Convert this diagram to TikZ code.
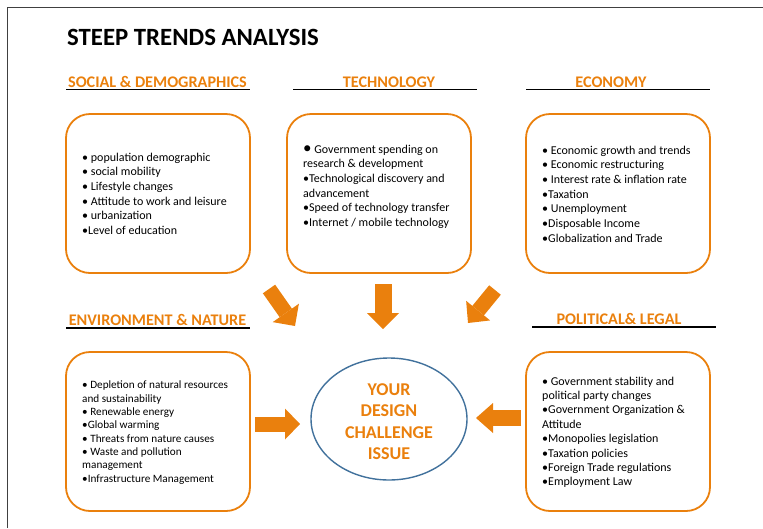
\documentclass[tikz,border=0pt]{standalone}
\usepackage{fontspec}
\setmainfont{Carlito}
\usetikzlibrary{arrows.meta,shapes.geometric}
\definecolor{org}{RGB}{234,128,13}
\definecolor{blu}{RGB}{65,113,156}
\definecolor{frm}{RGB}{64,64,64}
\tikzset{
  box/.style={draw=org, line width=1.8pt, rounded corners=24pt, minimum width=184pt, minimum height=159pt, inner sep=0pt},
  body/.style={anchor=north west, inner sep=0pt, align=left, font=\fontsize{12}{14.7}\selectfont},
  headtxt/.style={anchor=base, inner sep=0pt, text=org, font=\bfseries\fontsize{16.2}{19}\selectfont},
  uline/.style={line width=1.6pt, black},
  blockarr/.style n args={3}{draw=org, line width=#1, -{Triangle[length=#3, width=#2, line width=0pt]}}
}
\begin{document}
\begin{tikzpicture}[x=1pt,y=-1pt]
\useasboundingbox (0,0) rectangle (763,528);
% frame
\draw[frm, line width=1.5pt] (7.3,528) -- (7.3,7.3) -- (763,7.3);
% title
\node[anchor=base west, inner sep=0pt, font=\bfseries\fontsize{24.8}{29}\selectfont] (title) at (67,45) {STEEP TRENDS ANALYSIS};
% headings
\node[headtxt] (h1) at (157.5,87.5) {SOCIAL \& DEMOGRAPHICS};
\draw[uline] (66,89.5) -- (250,89.5);
\node[headtxt] (h2) at (389,87.5) {TECHNOLOGY};
\draw[uline] (293,89.5) -- (477,89.5);
\node[headtxt] (h3) at (611,87.5) {ECONOMY};
\draw[uline] (526,89.5) -- (710,89.5);
\node[headtxt] (h4) at (157.5,325) {ENVIRONMENT \& NATURE};
\draw[uline] (66,328) -- (250,328);
\node[headtxt] (h5) at (619,324) {POLITICAL\& LEGAL};
\draw[uline] (532,327) -- (716,327);
% boxes
\node[box] (b1) at (158,193.5) {};
\node[box] (b2) at (379,193.5) {};
\node[box] (b3) at (618,193.5) {};
\node[box] (b4) at (158,431.5) {};
\node[box] (b5) at (618,431.5) {};
% box texts
\node[body] (t1) at (82,152.5) {• population demographic\\• social mobility\\• Lifestyle changes\\• Attitude to work and leisure\\• urbanization\\•Level of education};
\node[body] (t2) at (303,144.5) {{\fontsize{17}{17}\selectfont•} Government spending on\\research \& development\\•Technological discovery and\\advancement\\•Speed of technology transfer\\•Internet / mobile technology};
\node[body] (t3) at (542,145.5) {• Economic growth and trends\\• Economic restructuring\\• Interest rate \& inflation rate\\•Taxation\\• Unemployment\\•Disposable Income\\•Globalization and Trade};
\node[body, font=\fontsize{11.2}{13.3}\selectfont] (t4) at (82,381) {• Depletion of natural resources\\and sustainability\\• Renewable energy\\•Global warming\\• Threats from nature causes\\• Waste and pollution\\management\\•Infrastructure Management};
\node[body, font=\fontsize{12}{14.4}\selectfont] (t5) at (542,376.5) {• Government stability and\\political party changes\\•Government Organization \&\\Attitude\\•Monopolies legislation\\•Taxation policies\\•Foreign Trade regulations\\•Employment Law};
% centre
\node[ellipse, draw=blu, line width=1.4pt, minimum width=156pt, minimum height=122pt, inner sep=0pt] (core) at (389,419) {};
\node[anchor=north, inner sep=0pt, align=center, text=org, font=\bfseries\fontsize{18}{21.5}\selectfont] (coretext) at (389,383) {YOUR\\DESIGN\\CHALLENGE\\ISSUE};
% block arrows
\coordinate (a1s) at (269,289); \coordinate (a1e) at (295,326);
\coordinate (a2s) at (383,284); \coordinate (a2e) at (383,329);
\coordinate (a3s) at (495,290); \coordinate (a3e) at (468,323);
\coordinate (a4s) at (255,424); \coordinate (a4e) at (300,424);
\coordinate (a5s) at (521,418); \coordinate (a5e) at (476,418);
\draw[blockarr={15pt}{32pt}{16pt}] (a1s) -- (a1e);
\draw[blockarr={17pt}{32pt}{16pt}] (a2s) -- (a2e);
\draw[blockarr={15pt}{31pt}{16pt}] (a3s) -- (a3e);
\draw[blockarr={15pt}{31pt}{15pt}] (a4s) -- (a4e);
\draw[blockarr={16pt}{30pt}{17pt}] (a5s) -- (a5e);
\end{tikzpicture}
\end{document}
